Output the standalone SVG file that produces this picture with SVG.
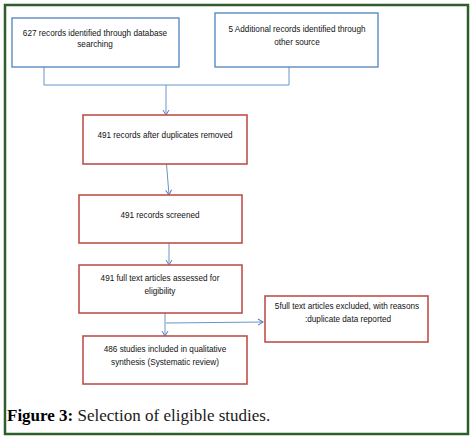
<svg xmlns="http://www.w3.org/2000/svg" width="475" height="441" viewBox="0 0 475 441">
<style>
.bb{fill:#fff;stroke:#4f81bd;stroke-width:1.3}
.rb{fill:#fff;stroke:#c0504d;stroke-width:1.6}
.t{font-family:"Liberation Sans",Arial,sans-serif;font-size:8.2px;fill:#111;text-anchor:middle}
.c{fill:none;stroke:#6a94c8;stroke-width:1}
.cap{font-family:"Liberation Serif","Times New Roman",serif;font-size:17px;fill:#1a1a1a}
</style>
<defs>
<marker id="ah" markerWidth="8" markerHeight="8" refX="6" refY="4" orient="auto" markerUnits="userSpaceOnUse">
<path d="M1,1 L6,4 L1,7" fill="none" stroke="#4f81bd" stroke-width="1"/>
</marker>
</defs>
<rect x="0" y="0" width="475" height="441" fill="#fff"/>
<rect x="5" y="5" width="463" height="429" fill="none" stroke="#2e5e2a" stroke-width="2.5"/>
<g id="connectors">
<path class="c" d="M44,67 V85 H289 V67"/>
<path class="c" d="M166,85 V115" marker-end="url(#ah)"/>
<path class="c" d="M166.5,164 L169,195" marker-end="url(#ah)"/>
<path class="c" d="M169,243 V265" marker-end="url(#ah)"/>
<path class="c" d="M165,313 V336" marker-end="url(#ah)"/>
<path class="c" d="M166,323 L263,322" marker-end="url(#ah)"/>
</g>
<g id="n1">
<rect class="bb" x="12" y="18" width="167" height="49"/>
<text class="t" x="95" y="36">627 records identified through database</text>
<text class="t" x="95" y="47">searching</text>
</g>
<g id="n2">
<rect class="bb" x="215" y="13" width="163" height="54"/>
<text class="t" x="297" y="32">5 Additional records identified through</text>
<text class="t" x="297" y="45">other source</text>
</g>
<g id="n3">
<rect class="rb" x="83" y="115" width="164" height="49"/>
<text class="t" x="165" y="138">491 records after duplicates removed</text>
</g>
<g id="n4">
<rect class="rb" x="79" y="195" width="163" height="48"/>
<text class="t" x="160" y="218">491 records screened</text>
</g>
<g id="n5">
<rect class="rb" x="79" y="265" width="163" height="48"/>
<text class="t" x="160" y="281">491 full text articles assessed for</text>
<text class="t" x="160" y="294">eligibility</text>
</g>
<g id="n6">
<rect class="rb" x="83" y="336" width="164" height="48"/>
<text class="t" x="165" y="352">486 studies included in qualitative</text>
<text class="t" x="165" y="365">synthesis (Systematic review)</text>
</g>
<g id="n7">
<rect class="rb" x="265" y="296" width="163" height="46"/>
<text class="t" x="347" y="309">5full text articles excluded, with reasons</text>
<text class="t" x="348" y="322">:duplicate data reported</text>
</g>
<text class="cap" x="7" y="421"><tspan font-weight="bold" fill="#000">Figure 3:</tspan> Selection of eligible studies.</text>
</svg>
